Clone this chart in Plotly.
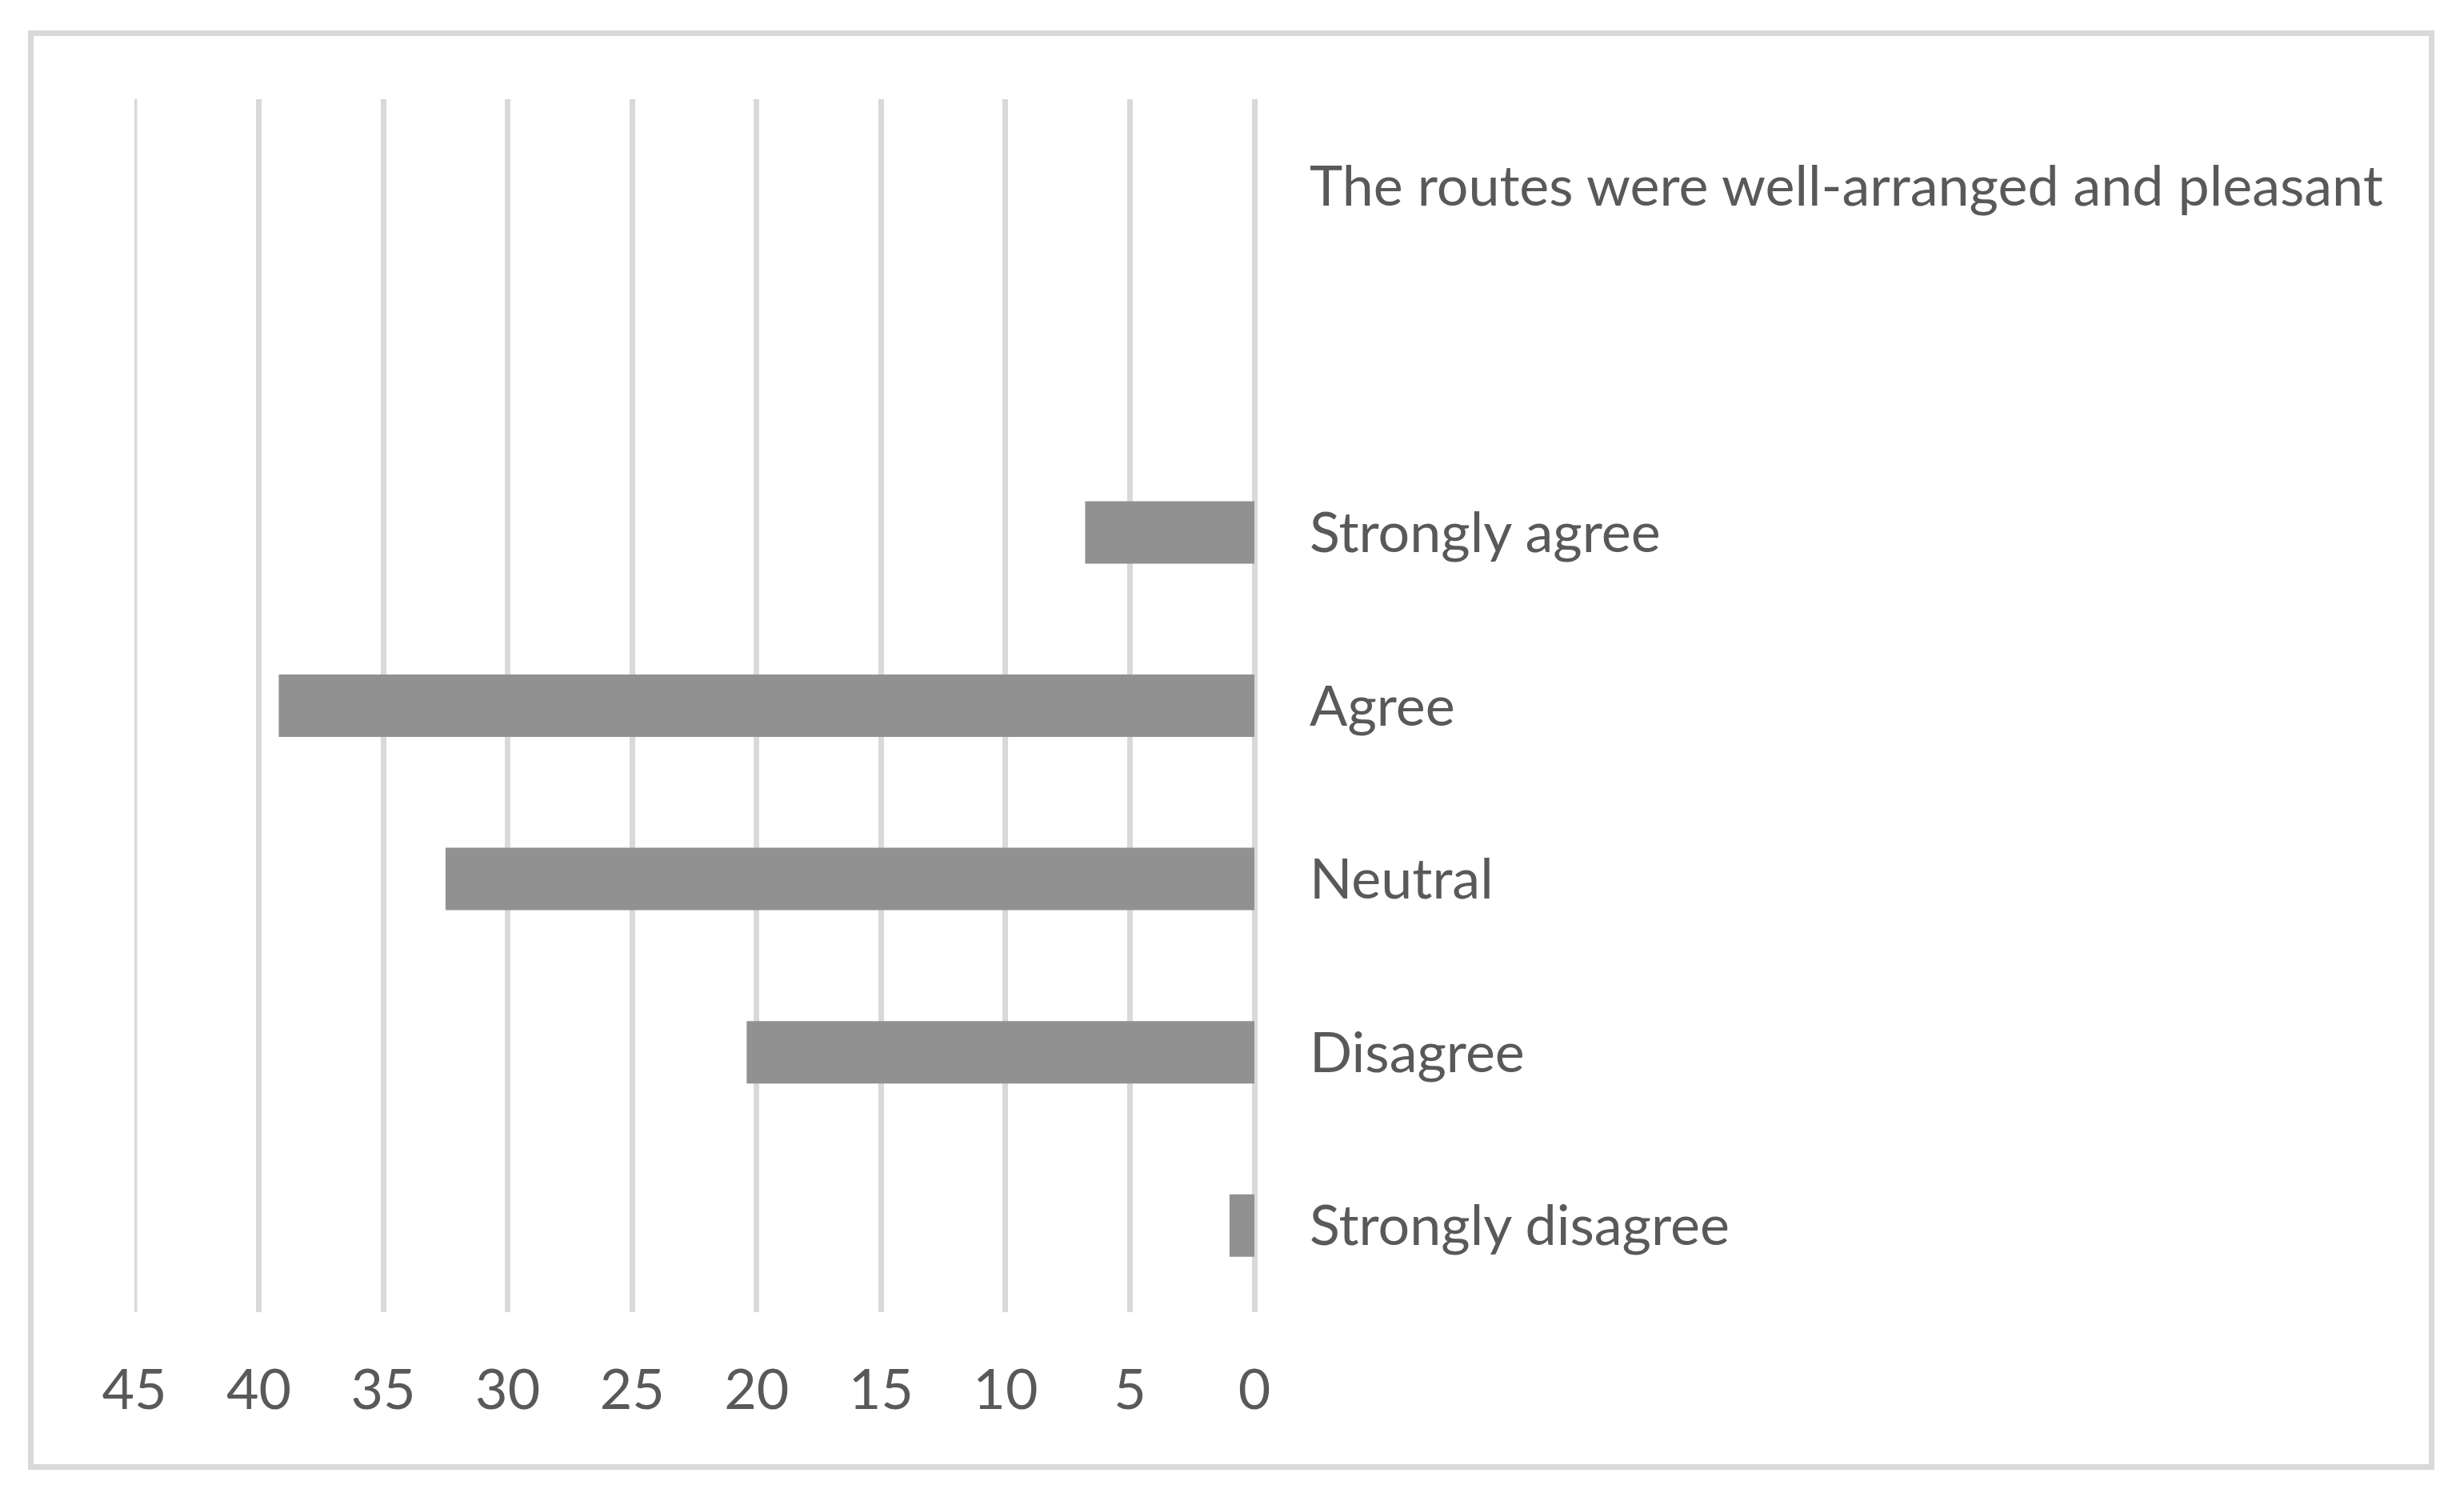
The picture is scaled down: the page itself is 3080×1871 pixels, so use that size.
import plotly.graph_objects as go

categories = ["The routes were well-arranged and pleasant", " ", "Strongly agree", "Agree", "Neutral", "Disagree", "Strongly disagree"]
values = [None, None, 6.8, 39.2, 32.5, 20.4, 1.0]
x_ticks = [45, 40, 35, 30, 25, 20, 15, 10, 5, 0]

W, H = 3080, 1871
OFF = 8  # page body margin offset
ml, mt = 168 - OFF, 124 - OFF
mr, mb = 1512 + OFF, 231 + OFF
pw = W - ml - mr
ph = H - mt - mb

def px_x(x):
    return (x - OFF - ml) / pw

def px_y(y):
    return 1 - (y - OFF - mt) / ph

text_color = "#595959"
font_family = "Lato, Calibri, Carlito, sans-serif"
fsize = 70

fig = go.Figure()
fig.add_trace(go.Bar(
    y=categories, x=values, orientation="h",
    marker=dict(color="#919191", line=dict(width=0)),
    width=0.36,
))

fig.update_layout(
    width=W, height=H,
    margin=dict(l=ml, r=mr, t=mt, b=mb, pad=0),
    paper_bgcolor="white", plot_bgcolor="white",
    showlegend=False,
    font=dict(family=font_family, color=text_color, size=fsize),
    xaxis=dict(
        range=[45, 0], tickvals=x_ticks, ticktext=[str(v) for v in x_ticks],
        showgrid=True, gridcolor="#d9d9d9", gridwidth=7,
        zeroline=True, zerolinecolor="#d9d9d9", zerolinewidth=7,
        showline=False, ticks="", ticklabelstandoff=50,
        tickfont=dict(size=fsize, color=text_color, family=font_family),
    ),
    yaxis=dict(
        categoryorder="array", categoryarray=categories,
        autorange="reversed", side="right",
        showgrid=False, zeroline=False, showline=False, ticks="",
        ticklabelstandoff=68,
        tickfont=dict(size=fsize, color=text_color, family=font_family),
    ),
    shapes=[
        dict(
            type="rect", xref="paper", yref="paper",
            x0=px_x(38.5), x1=px_x(3039.5), y0=px_y(1833.5), y1=px_y(41.5),
            line=dict(color="#d9d9d9", width=7), fillcolor="rgba(0,0,0,0)", layer="below",
        ),
        dict(
            type="line", xref="x", yref="paper",
            x0=x_ticks[0], x1=x_ticks[0], y0=0, y1=1,
            line=dict(color="#d9d9d9", width=7), layer="below",
        ),
    ],
)

fig.write_html("out.html")
